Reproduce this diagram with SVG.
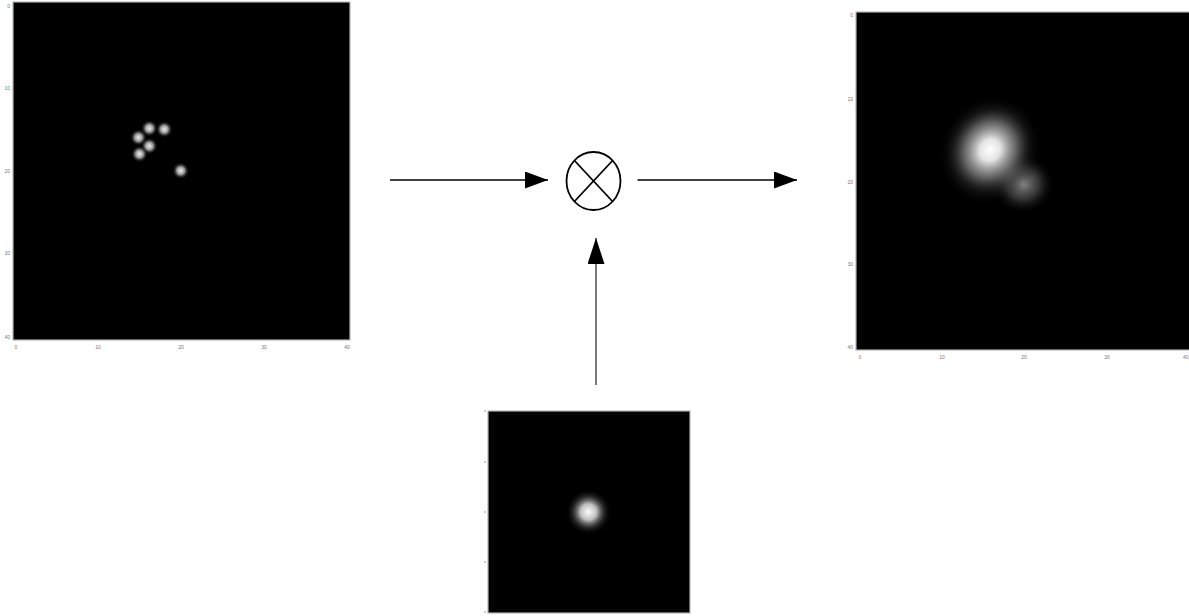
<svg xmlns="http://www.w3.org/2000/svg" width="1189" height="616" viewBox="0 0 1189 616">
<style>
.frame{fill:#000;stroke:#b4b4b4;stroke-width:1.2}
.tick{font-family:"Liberation Sans",Arial,sans-serif;font-size:5px;fill:#777}
.conn{stroke:#000;stroke-width:1.6;fill:none}
</style>
<defs>
<radialGradient id="dot">
<stop offset="0" stop-color="#fff" stop-opacity="0.95"/>
<stop offset="0.45" stop-color="#ddd" stop-opacity="0.7"/>
<stop offset="1" stop-color="#000" stop-opacity="0"/>
</radialGradient>
<radialGradient id="big">
<stop offset="0" stop-color="#fff" stop-opacity="1"/>
<stop offset="0.2" stop-color="#f0f0f0" stop-opacity="0.95"/>
<stop offset="0.5" stop-color="#aaa" stop-opacity="0.6"/>
<stop offset="0.75" stop-color="#444" stop-opacity="0.3"/>
<stop offset="1" stop-color="#000" stop-opacity="0"/>
</radialGradient>
<radialGradient id="dim">
<stop offset="0" stop-color="#999" stop-opacity="0.9"/>
<stop offset="0.5" stop-color="#606060" stop-opacity="0.55"/>
<stop offset="1" stop-color="#000" stop-opacity="0"/>
</radialGradient>
<radialGradient id="mid">
<stop offset="0" stop-color="#fff" stop-opacity="1"/>
<stop offset="0.35" stop-color="#e0e0e0" stop-opacity="0.85"/>
<stop offset="0.7" stop-color="#666" stop-opacity="0.35"/>
<stop offset="1" stop-color="#000" stop-opacity="0"/>
</radialGradient>
<marker id="ah" markerWidth="24" markerHeight="17" refX="23" refY="8.5" orient="auto" markerUnits="userSpaceOnUse">
<path d="M0,0 L23,8.5 L0,17 Z" fill="#000"/>
</marker>
<marker id="ahv" markerWidth="26" markerHeight="17" refX="26" refY="8.5" orient="auto" markerUnits="userSpaceOnUse">
<path d="M0,0 L26,8.5 L0,17 Z" fill="#000"/>
</marker>
</defs>
<rect width="1189" height="616" fill="#fff"/>

<g id="input-image">
<rect class="frame" x="13" y="2" width="337" height="338"/>
<circle cx="149.3" cy="128.3" r="8.5" fill="url(#dot)"/>
<circle cx="164.3" cy="129.3" r="8.5" fill="url(#dot)"/>
<circle cx="138.5" cy="137.5" r="8.5" fill="url(#dot)"/>
<circle cx="149.3" cy="146" r="8.5" fill="url(#dot)"/>
<circle cx="139.5" cy="154" r="8.5" fill="url(#dot)"/>
<circle cx="180.7" cy="170.7" r="8.5" fill="url(#dot)"/>
<g class="tick" text-anchor="end">
<text x="10" y="8">0</text>
<text x="10" y="90">10</text>
<text x="10" y="173">20</text>
<text x="10" y="255">30</text>
<text x="10" y="339">40</text>
</g>
<g class="tick" text-anchor="middle">
<text x="16" y="349">0</text>
<text x="98" y="349">10</text>
<text x="181" y="349">20</text>
<text x="264" y="349">30</text>
<text x="347" y="349">40</text>
</g>
</g>

<g id="multiply">
<ellipse cx="593.5" cy="181" rx="27" ry="29" fill="#fff" stroke="#000" stroke-width="1.8"/>
<line x1="574.4" y1="160.5" x2="612.6" y2="201.5" stroke="#000" stroke-width="1.8"/>
<line x1="612.6" y1="160.5" x2="574.4" y2="201.5" stroke="#000" stroke-width="1.8"/>
</g>

<g id="kernel-image">
<rect class="frame" x="488" y="411" width="202" height="202"/>
<circle cx="588.5" cy="512" r="23" fill="url(#mid)"/>
<g stroke="#999" stroke-width="1">
<line x1="484" y1="411" x2="486" y2="411"/>
<line x1="484" y1="462" x2="486" y2="462"/>
<line x1="484" y1="512" x2="486" y2="512"/>
<line x1="484" y1="562" x2="486" y2="562"/>
<line x1="484" y1="612" x2="486" y2="612"/>
</g>
</g>

<g id="output-image">
<rect class="frame" x="856" y="12" width="340" height="338"/>
<ellipse cx="1023" cy="184" rx="32" ry="30" fill="url(#dim)"/>
<ellipse cx="990" cy="150" rx="50" ry="56" fill="url(#big)" transform="rotate(30 990 150)"/>
<g class="tick" text-anchor="end">
<text x="853" y="17">0</text>
<text x="853" y="101">10</text>
<text x="853" y="184">20</text>
<text x="853" y="266">30</text>
<text x="853" y="349">40</text>
</g>
<g class="tick" text-anchor="middle">
<text x="860" y="359">0</text>
<text x="942" y="359">10</text>
<text x="1024" y="359">20</text>
<text x="1107" y="359">30</text>
<text x="1188.5" y="359" text-anchor="end">40</text>
</g>
</g>

<g id="connectors">
<line class="conn" x1="390" y1="180" x2="548" y2="180" marker-end="url(#ah)"/>
<line class="conn" x1="637.5" y1="180" x2="797" y2="180" marker-end="url(#ah)"/>
<line x1="596" y1="385" x2="596" y2="238" stroke="#555" stroke-width="1.6" marker-end="url(#ahv)"/>
</g>
</svg>
